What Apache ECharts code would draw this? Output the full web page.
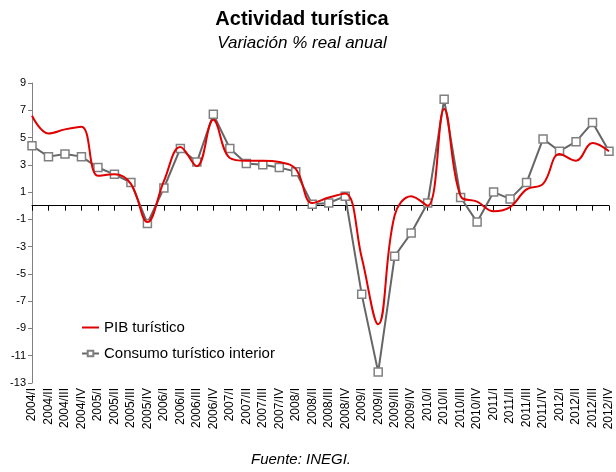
<!DOCTYPE html>
<html>
<head>
<meta charset="utf-8">
<script src="https://cdn.jsdelivr.net/npm/echarts@6/dist/echarts.min.js"></script>
<style>
  html, body { margin: 0; padding: 0; background: #fff; }
  #main { width: 616px; height: 472px; }
</style>
</head>
<body>
<div id="main"></div>
<script>
// trimestres 2004/I - 2012/IV
var quarters = [
  '2004/I', '2004/II', '2004/III', '2004/IV',
  '2005/I', '2005/II', '2005/III', '2005/IV',
  '2006/I', '2006/II', '2006/III', '2006/IV',
  '2007/I', '2007/II', '2007/III', '2007/IV',
  '2008/I', '2008/II', '2008/III', '2008/IV',
  '2009/I', '2009/II', '2009/III', '2009/IV',
  '2010/I', '2010/II', '2010/III', '2010/IV',
  '2011/I', '2011/II', '2011/III', '2011/IV',
  '2012/I', '2012/II', '2012/III', '2012/IV'
];

var pibTuristico = [
  6.6, 5.3, 5.6, 5.8,
  2.2, 2.3, 1.6, -1.2,
  1.8, 4.3, 2.9, 6.3,
  3.5, 3.3, 3.3, 3.2,
  2.7, 0.2, 0.6, 0.9,
  -3.8, -8.7, -0.7, 0.7,
  0.0, 7.1, 0.7, 0.3,
  -0.4, -0.1, 1.2, 1.6,
  3.8, 3.3, 4.6, 4.0
];

var consumoInterior = [
  4.4, 3.6, 3.8, 3.6,
  2.8, 2.3, 1.7, -1.3,
  1.3, 4.2, 3.2, 6.7,
  4.2, 3.1, 3.0, 2.8,
  2.5, 0.1, 0.2, 0.7,
  -6.5, -12.2, -3.7, -2.0,
  0.2, 7.8, 0.6, -1.2,
  1.0, 0.5, 1.7, 4.9,
  4.0, 4.7, 6.1, 4.0
];

var chart = echarts.init(document.getElementById('main'));

chart.setOption({
  backgroundColor: '#fff',
  animation: false,
  textStyle: { fontFamily: 'Liberation Sans, Arial, sans-serif' },
  graphic: [
    {
      type: 'text', x: 302, y: 9,
      style: { text: 'Actividad turística', font: 'bold 20px "Liberation Sans", Arial', fill: '#000', textAlign: 'center' }
    },
    {
      type: 'text', x: 302, y: 35,
      style: { text: 'Variación % real anual', font: 'italic 17px "Liberation Sans", Arial', fill: '#000', textAlign: 'center' }
    },
    {
      type: 'text', x: 301, y: 452,
      style: { text: 'Fuente: INEGI.', font: 'italic 15px "Liberation Sans", Arial', fill: '#000', textAlign: 'center' }
    }
  ],
  legend: {
    orient: 'vertical',
    left: 76,
    top: 315,
    itemWidth: 17,
    itemHeight: 7,
    itemGap: 11,
    textStyle: { fontSize: 15, color: '#000' },
    data: [
      { name: 'PIB turístico', itemStyle: { opacity: 0 } },
      { name: 'Consumo turístico interior' }
    ]
  },
  grid: { left: 32, right: 7, top: 83, bottom: 89 },
  xAxis: [
    {
      type: 'category',
      data: quarters,
      boundaryGap: false,
      axisLine: { onZero: true, lineStyle: { color: '#000', width: 1 } },
      axisTick: { show: true, interval: 0, length: 5, lineStyle: { color: '#000' } },
      axisLabel: { show: false }
    },
    {
      type: 'category',
      data: quarters,
      boundaryGap: false,
      position: 'bottom',
      axisLine: { show: false, onZero: false },
      axisTick: { show: false },
      axisLabel: { interval: 0, rotate: 90, margin: 5, fontSize: 12, color: '#000' }
    }
  ],
  yAxis: {
    type: 'value',
    min: -13,
    max: 9,
    interval: 2,
    axisLine: { show: true, lineStyle: { color: '#808080', width: 1 } },
    axisTick: { show: true, length: 4, lineStyle: { color: '#808080' } },
    axisLabel: { fontSize: 11, color: '#000', margin: 6 },
    splitLine: { show: false }
  },
  series: [
    {
      name: 'PIB turístico',
      type: 'line',
      data: pibTuristico,
      smooth: 0.4,
      symbol: 'none',
      itemStyle: { color: '#e00000' },
      lineStyle: { color: '#e00000', width: 2 },
      z: 3
    },
    {
      name: 'Consumo turístico interior',
      type: 'line',
      data: consumoInterior,
      symbol: 'rect',
      symbolSize: 8,
      showAllSymbol: true,
      itemStyle: { color: '#fff', borderColor: '#808080', borderWidth: 1.5 },
      lineStyle: { color: '#666', width: 2 },
      z: 2
    }
  ]
});
</script>
</body>
</html>
